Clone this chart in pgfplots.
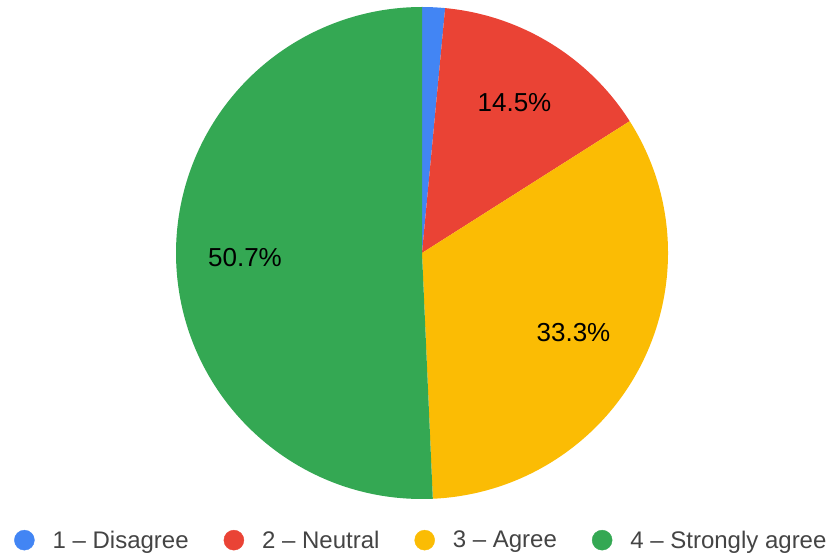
\documentclass[border=0pt]{standalone}
\usepackage{fontspec}
\setmainfont{Liberation Sans}
\usepackage{pgfplots}
\usepackage{pgfplotstable}
\pgfplotsset{compat=1.18}

\definecolor{gblue}{HTML}{4285F4}
\definecolor{gred}{HTML}{EA4335}
\definecolor{gyellow}{HTML}{FBBC04}
\definecolor{ggreen}{HTML}{34A853}
\definecolor{legtext}{HTML}{444444}

% share of answers (percent), clockwise from 12 o'clock
\pgfplotstableread[col sep=comma]{
value,color
1.5,gblue
14.5,gred
33.3,gyellow
50.7,ggreen
}\piedata

% start / end angle of every slice
\def\cum{90}%
\pgfplotsforeachungrouped \i in {0,...,3}{%
  \pgfplotstablegetelem{\i}{value}\of\piedata
  \pgfmathsetmacro\nxt{\cum-3.6*\pgfplotsretval}%
  \expandafter\xdef\csname sa\i\endcsname{\cum}%
  \expandafter\xdef\csname ea\i\endcsname{\nxt}%
  \pgfplotstablegetelem{\i}{color}\of\piedata
  \expandafter\xdef\csname col\i\endcsname{\pgfplotsretval}%
  \xdef\cum{\nxt}%
}

\begin{document}
\begin{tikzpicture}
\begin{axis}[
  hide axis,
  scale only axis,
  width=839pt, height=554pt,
  xmin=0, xmax=839, ymin=0, ymax=554,
  clip=false,
  legend columns=4,
  legend style={at={(0.0167,0.025)}, anchor=west, draw=none, fill=none,
    inner sep=0pt, font=\fontsize{24}{28}\selectfont, text=legtext,
    /tikz/every even column/.append style={column sep=33pt},
    /tikz/every odd column/.append style={column sep=16pt}},
  legend image code/.code={\fill[#1] (10pt,0pt) circle[radius=10pt];},
]
\path (axis cs:0,0) rectangle (axis cs:839,554);
\pgfplotsinvokeforeach{0,...,3}{%
  \edef\slice{\noexpand\fill[\csname col#1\endcsname] (axis cs:422,301)
    -- ++(\csname sa#1\endcsname:246pt)
    arc[start angle=\csname sa#1\endcsname, end angle=\csname ea#1\endcsname, radius=246pt]
    -- cycle;}%
  \slice
}
\node[font=\fontsize{26}{30}\selectfont] at (axis cs:514.5,451) {14.5\%};
\node[font=\fontsize{26}{30}\selectfont] at (axis cs:573.5,221) {33.3\%};
\node[font=\fontsize{26}{30}\selectfont] at (axis cs:245,296) {50.7\%};

\addlegendimage{gblue}\addlegendentry{1 -- Disagree}
\addlegendimage{gred}\addlegendentry{2 -- Neutral}
\addlegendimage{gyellow}\addlegendentry{3 -- Agree}
\addlegendimage{ggreen}\addlegendentry{4 -- Strongly agree}
\end{axis}
\end{tikzpicture}
\end{document}
